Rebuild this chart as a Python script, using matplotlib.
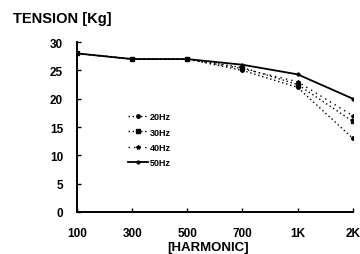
import matplotlib
matplotlib.use("Agg")
import matplotlib.pyplot as plt

categories = ["100", "300", "500", "700", "1K", "2K"]
s20 = [28, 27, 27, 25.0, 22.0, 13]
s30 = [28, 27, 27, 25.5, 22.5, 16]
s40 = [28, 27, 27, 25.3, 23.0, 17]
s50 = [28, 27, 27, 26.0, 24.3, 20]
yticks = [0, 5, 10, 15, 20, 25, 30]

plt.rcParams['font.family'] = ['Liberation Sans', 'DejaVu Sans']
plt.rcParams['font.weight'] = 'bold'

fig = plt.figure(figsize=(3.6, 2.55), dpi=100)
ax = fig.add_axes([0.214, 0.165, 0.766, 0.666])
x = list(range(len(categories)))
ax.plot(x, s20, linestyle=(0, (1, 2)), color='black', lw=1, marker='o', ms=2.5, label='20Hz')
ax.plot(x, s30, linestyle=(0, (1, 2)), color='black', lw=1, marker='s', ms=2.5, label='30Hz')
ax.plot(x, s40, linestyle=(0, (1, 3)), color='black', lw=1, marker='*', ms=3, label='40Hz')
ax.plot(x, s50, linestyle='-', color='black', lw=1.3, marker='o', ms=2, label='50Hz')

ax.set_xlim(0, len(categories) - 1)
ax.set_ylim(0, 30)
ax.set_xticks(x)
ax.set_xticklabels(categories, fontsize=8.5, fontweight='bold')
ax.set_yticks(yticks)
ax.set_yticklabels([str(v) for v in yticks], fontsize=8.5, fontweight='bold')
ax.tick_params(axis='both', direction='in', length=3, width=1)
ax.tick_params(axis='x', pad=11)
ax.tick_params(axis='y', pad=10)
for s in ['top', 'right']:
    ax.spines[s].set_visible(False)
for s in ['left', 'bottom']:
    ax.spines[s].set_linewidth(1.4)

leg = ax.legend(loc='upper left', bbox_to_anchor=(0.155, 0.635), frameon=False,
                fontsize=6.5, handlelength=2.2, handletextpad=0.2, labelspacing=0.7)
fig.text(0.035, 0.925, "TENSION [Kg]", fontsize=10.5, fontweight='bold', ha='left', va='center')
fig.text(0.578, 0.026, "[HARMONIC]", fontsize=9.5, fontweight='bold', ha='center', va='center')
fig.savefig("out.png", dpi=100)
